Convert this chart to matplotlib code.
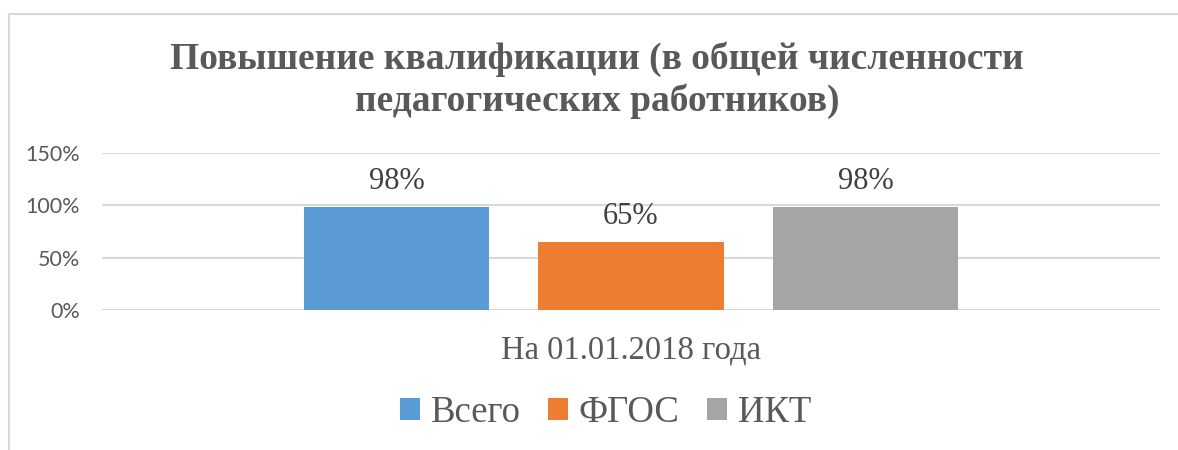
import matplotlib
matplotlib.use("Agg")
import matplotlib.pyplot as plt
from matplotlib.lines import Line2D
from matplotlib.patches import Patch

title = "Повышение квалификации (в общей численности\nпедагогических работников)"
category = ["На 01.01.2018 года"]
series_names = ["Всего", "ФГОС", "ИКТ"]
values = [0.98, 0.65, 0.98]
colors = ["#5B9BD5", "#ED7D31", "#A5A5A5"]
yticks = [0, 0.5, 1.0, 1.5]
ytick_labels = ["0%", "50%", "100%", "150%"]

text_color = "#595959"
grid_color = "#D9D9D9"
serif = "Liberation Serif"

fig = plt.figure(figsize=(11.78, 4.5), dpi=100)
ax = fig.add_axes([102 / 1178, 1 - 310 / 450, (1160 - 102) / 1178, (310 - 153) / 450])

width = 0.175
step = 0.2217
for i, (name, v, c) in enumerate(zip(series_names, values, colors)):
    x = (i - 1) * step
    ax.bar(x, v, width=width, color=c, label=name, zorder=3)
    ax.annotate(f"{round(v * 100)}%", (x, v), xytext=(0, 8), textcoords="offset points",
                ha="center", va="bottom", fontsize=22, family=serif, color="#404040")

ax.set_xlim(-0.5, 0.5)
ax.set_ylim(0, 1.5)
ax.set_yticks(yticks)
ax.set_yticklabels(ytick_labels, family="Lato", fontsize=15.5, color=text_color)
ax.set_xticks([0])
ax.set_xticklabels(category, family=serif, fontsize=23.5, color=text_color)
ax.tick_params(axis="both", length=0)
ax.tick_params(axis="y", pad=16)
ax.tick_params(axis="x", pad=18)
ax.grid(axis="y", color=grid_color, linewidth=1.5, zorder=0)
ax.set_axisbelow(True)
for s in ax.spines.values():
    s.set_visible(False)
ax.patch.set_alpha(0)

fig.text(0.507, 1 - 80 / 450, title, ha="center", va="center", fontsize=27,
         fontweight="bold", family=serif, color=text_color, linespacing=1.22)

handles = [Patch(facecolor=c, edgecolor="none") for c in colors]
fig.legend(handles, series_names, loc="center", bbox_to_anchor=(0.514, 1 - 413 / 450), ncol=3,
           frameon=False, handlelength=0.53, handleheight=0.53, handletextpad=0.3,
           columnspacing=0.75, prop={"family": serif, "size": 26.5}, labelcolor=text_color)

# chart border (only top and left visible in the crop)
fig.add_artist(Line2D([8.5 / 1178, 8.5 / 1178], [0, 1 - 13.5 / 450], color=grid_color, linewidth=1.5))
fig.add_artist(Line2D([8.5 / 1178, 1], [1 - 13.5 / 450, 1 - 13.5 / 450], color=grid_color, linewidth=1.5))

fig.savefig("out.png", dpi=100)
